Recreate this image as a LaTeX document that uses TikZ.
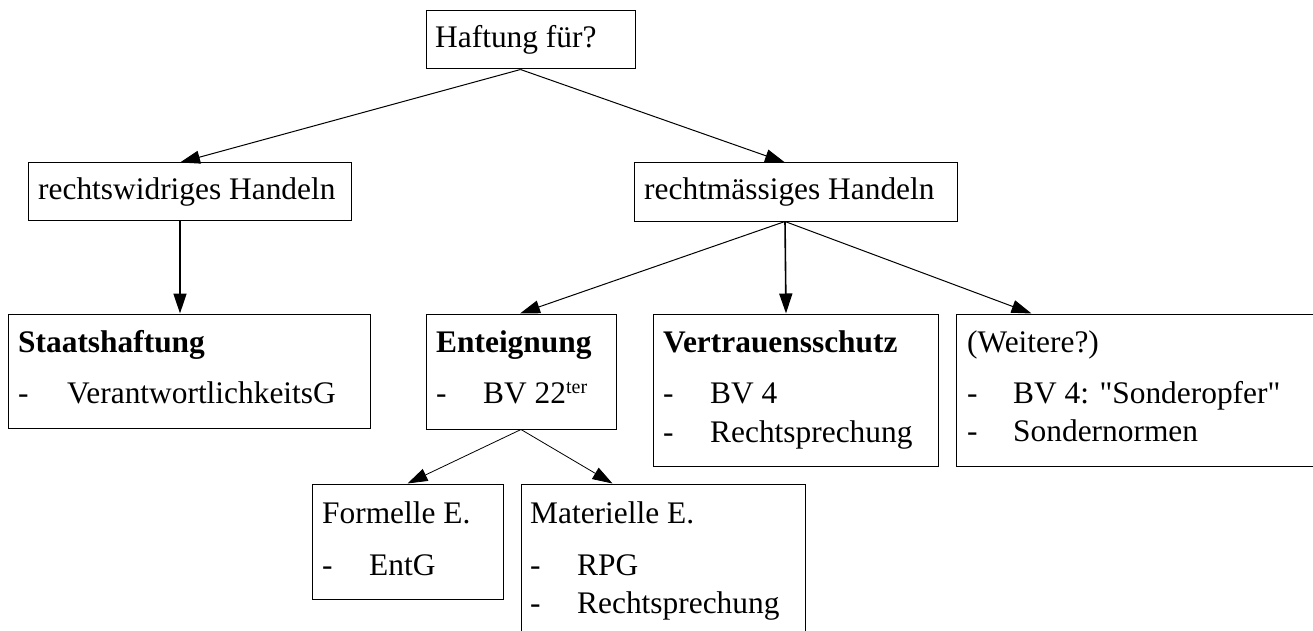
\documentclass[tikz,border=0pt]{standalone}
\usepackage{fontspec}
\setmainfont{Liberation Serif}
\usetikzlibrary{arrows.meta}
\tikzset{
  box/.style={draw=black, line width=1pt, inner sep=0pt, rectangle},
  txt/.style={anchor=base west, inner sep=0pt, font=\fontsize{31.4}{36}\selectfont},
  conn/.style={line width=1pt, -{Triangle[length=20pt,width=13pt]}},
  vconn/.style={line width=1.6pt, -{Triangle[length=20pt,width=13pt]}},
  thinconn/.style={line width=0.8pt, -{Triangle[length=20pt,width=13pt]}},
}
\begin{document}
\begin{tikzpicture}[x=1pt,y=-1pt]
\clip (0,0) rectangle (1313,631);
\fill[white] (0,0) rectangle (1313,631);
% boxes
\node[box, minimum width=209pt, minimum height=58pt] (top) at (530.5,40) {};
\node[box, minimum width=323pt, minimum height=57pt] (rw) at (189.5,191.5) {};
\node[box, minimum width=323pt, minimum height=58pt] (rm) at (795.5,192) {};
\node[box, minimum width=362pt, minimum height=114pt] (staat) at (189,371) {};
\node[box, minimum width=190pt, minimum height=115pt] (ent) at (521,371.5) {};
\node[box, minimum width=285pt, minimum height=152pt] (ver) at (795.5,390) {};
\node[box, minimum width=374pt, minimum height=152pt] (wei) at (1143,390) {};
\node[box, minimum width=191pt, minimum height=115pt] (form) at (407.5,541.5) {};
\node[box, minimum width=284pt, minimum height=176pt] (mat) at (663,572) {};
% texts
\node[txt] (t1) at (435,48) {Haftung für?};
\node[txt] (t2) at (38,200) {rechtswidriges Handeln};
\node[txt] (t3) at (644,200) {rechtmässiges Handeln};
\node[txt] (s1) at (18,352) {\bfseries Staatshaftung};
\node[txt] (s2) at (18,403) {-};
\node[txt] (s3) at (67,403) {VerantwortlichkeitsG};
\node[txt] (e1) at (436,352) {\bfseries Enteignung};
\node[txt] (e2) at (436,403) {-};
\node[txt] (e3) at (483,403) {BV 22\raisebox{10pt}{\fontsize{20}{22}\selectfont ter}};
\node[txt] (v1) at (663,352) {\bfseries Vertrauensschutz};
\node[txt] (v2) at (663,403) {-};
\node[txt] (v3) at (710,403) {BV 4};
\node[txt] (v4) at (663,442) {-};
\node[txt] (v5) at (710,442) {Rechtsprechung};
\node[txt] (w1) at (967,352) {(Weitere?)};
\node[txt] (w2) at (967,403) {-};
\node[txt] (w3) at (1013,403) {BV 4: \textquotedbl Sonderopfer\textquotedbl};
\node[txt] (w4) at (967,441) {-};
\node[txt] (w5) at (1013,441) {Sondernormen};
\node[txt] (f1) at (322,523) {Formelle E.};
\node[txt] (f2) at (322,575) {-};
\node[txt] (f3) at (369,575) {EntG};
\node[txt] (m1) at (530,523) {Materielle E.};
\node[txt] (m2) at (530,575) {-};
\node[txt] (m3) at (577,575) {RPG};
\node[txt] (m4) at (530,613) {-};
\node[txt] (m5) at (577,613) {Rechtsprechung};
% connectors
\draw[conn] ([xshift=-10pt]top.south) -- ([xshift=-9.5pt]rw.north);
\draw[conn] ([xshift=-10pt]top.south) -- ([xshift=-10.5pt]rm.north);
\draw[vconn] ([xshift=-9.5pt]rw.south) -- ([xshift=-9pt]staat.north);
\draw[conn] ([xshift=-10.5pt]rm.south) -- ([xshift=-1pt]ent.north);
\draw[vconn] ([xshift=-10.5pt]rm.south) -- ([xshift=-9.5pt]ver.north);
\draw[conn] ([xshift=-10.5pt]rm.south) -- ([xshift=76pt]wei.north west);
\draw[thinconn] (ent.south) -- (form.north);
\draw[thinconn] (ent.south) -- ([xshift=92pt]mat.north west);
\end{tikzpicture}
\end{document}
